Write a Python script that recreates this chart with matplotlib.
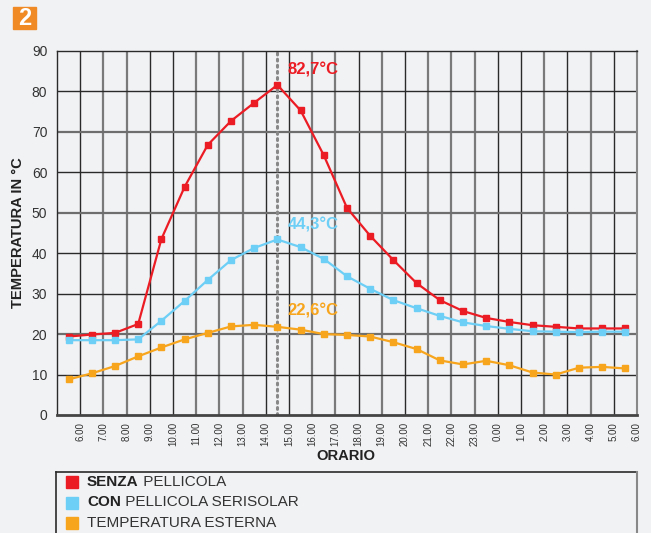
import numpy as np
import matplotlib.pyplot as plt
from matplotlib.patches import Rectangle
from matplotlib.lines import Line2D

plt.rcParams['font.family'] = ['Liberation Sans', 'DejaVu Sans']

# ore (mezz'ora dopo ogni ora, da 5.30 a 5.30 del giorno dopo)
ore = np.arange(5.5, 30.0, 1.0)

senza_pellicola = [19.4, 19.9, 20.3, 22.5, 43.5, 56.4, 66.8, 72.7, 77.2, 81.6,
                   75.3, 64.2, 51.2, 44.3, 38.3, 32.6, 28.4, 25.7, 24.0, 23.0,
                   22.2, 21.8, 21.4, 21.4, 21.4]
con_pellicola = [18.5, 18.5, 18.5, 18.7, 23.3, 28.2, 33.4, 38.3, 41.3, 43.4,
                 41.5, 38.6, 34.3, 31.2, 28.4, 26.4, 24.5, 22.9, 22.0, 21.3,
                 20.7, 20.6, 20.5, 20.6, 20.6]
temp_esterna = [8.8, 10.3, 12.1, 14.5, 16.7, 18.7, 20.3, 21.9, 22.3, 21.8,
                21.1, 20.0, 19.8, 19.4, 18.0, 16.3, 13.5, 12.5, 13.4, 12.3,
                10.5, 10.0, 11.7, 11.9, 11.5]

tick_pos = np.arange(6, 31)
tick_lab = [f"{h % 24}.00" for h in tick_pos]

serie = [
    (senza_pellicola, '#ec1c24', 'SENZA', ' PELLICOLA', '82,7°C', 85.3),
    (con_pellicola, '#6dcff6', 'CON', ' PELLICOLA SERISOLAR', '44,3°C', 47.0),
    (temp_esterna, '#f7a51d', '', 'TEMPERATURA ESTERNA', '22,6°C', 25.7),
]

# linee della griglia più chiare (effetto della stampa originale)
v_grigie = {7, 8, 11, 12, 13, 16, 17, 19, 21, 22, 23, 26, 28}
h_grigie = {20, 50, 70}

bg = '#f1f2f4'
fig = plt.figure(figsize=(6.51, 5.33), dpi=100, facecolor=bg)
ax = fig.add_axes([57/651, 1-415/533, (637-57)/651, (415-51)/533])
ax.set_facecolor(bg)

for x in tick_pos[:-1]:
    c, lw = ('#7a7a7a', 1.6) if x in v_grigie else ('#2a2a2a', 1.0)
    ax.axvline(x, color=c, lw=lw, zorder=1)
for y in range(10, 90, 10):
    c, lw = ('#6e6e6e', 1.6) if y in h_grigie else ('#2a2a2a', 1.0)
    ax.axhline(y, color=c, lw=lw, zorder=1)

ax.axvline(14.5, color='#888888', lw=2.2, ls=(0, (0.6, 1.4)), zorder=2,
           dash_capstyle='round')

for valori, col, b, r, etichetta, ylab in serie:
    ax.plot(ore, valori, color=col, lw=1.6, marker='s', ms=4.5, zorder=3)
    ax.text(14.95, ylab, etichetta, color=col, fontsize=12, fontweight='bold',
            va='center', ha='left', zorder=4)

ax.set_xlim(5, 30)
ax.set_ylim(0, 90)
ax.set_yticks(range(0, 91, 10))
ax.set_xticks(tick_pos)
ax.set_xticklabels(tick_lab, rotation=90, fontsize=7, color='#333333')
ax.tick_params(axis='x', length=0, pad=5)
ax.tick_params(axis='y', length=0, pad=7, labelsize=10, labelcolor='#333333')

for s in ['left', 'top']:
    ax.spines[s].set_color('#2a2a2a')
    ax.spines[s].set_linewidth(1.0)
ax.spines['right'].set_color('#888888')
ax.spines['right'].set_linewidth(1.5)
ax.spines['bottom'].set_color('#444444')
ax.spines['bottom'].set_linewidth(2.0)

fig.text(346/651, 1-456/533, 'ORARIO', fontsize=10.6, fontweight='bold',
         color='#222222', ha='center', va='center')
fig.text(18/651, 1-233/533, 'TEMPERATURA IN °C', fontsize=10.6, fontweight='bold',
         color='#222222', ha='center', va='center', rotation=90)

# badge numero
fig.patches.append(Rectangle((13/651, 1-29/533), 23/651, 22/533,
                             transform=fig.transFigure, color='#f08a24'))
fig.text(24.5/651, 1-18.5/533, '2', fontsize=17, fontweight='bold', color='white',
         ha='center', va='center')

# legenda
fig.lines.append(Line2D([56/651, 637/651], [1-472/533, 1-472/533],
                        transform=fig.transFigure, color='#2a2a2a', lw=1.2))
fig.lines.append(Line2D([56.5/651, 56.5/651], [1-472/533, 0],
                        transform=fig.transFigure, color='#2a2a2a', lw=1.2))
fig.lines.append(Line2D([636.5/651, 636.5/651], [1-472/533, 0],
                        transform=fig.transFigure, color='#888888', lw=1.5))
for k, (valori, col, b, r, etichetta, ylab) in enumerate(serie):
    yc = 482 + k * 20.5
    fig.patches.append(Rectangle((66/651, 1-(yc+6)/533), 12/651, 12/533,
                                 transform=fig.transFigure, color=col))
    if b:
        t = fig.text(87/651, 1-yc/533, b, fontsize=11, fontweight='bold',
                     color='#222222', ha='left', va='center')
        ax.annotate(r, xy=(1, 0.5), xycoords=t, fontsize=11, color='#333333',
                    ha='left', va='center', annotation_clip=False)
    else:
        fig.text(87/651, 1-yc/533, r, fontsize=11, color='#333333',
                 ha='left', va='center')

fig.savefig('out.png', dpi=100, facecolor=bg)
